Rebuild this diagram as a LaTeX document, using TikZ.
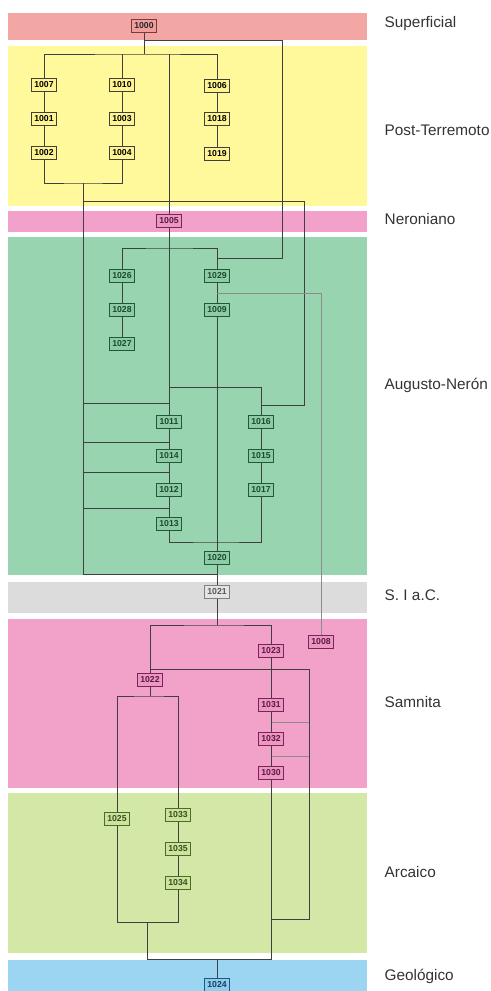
\documentclass[tikz,border=0pt]{standalone}
\usepackage{fontspec}
\setmainfont{Liberation Sans}
\usepackage{tikz}
\usetikzlibrary{calc}

\definecolor{bandSup}{HTML}{F2A7A5}
\definecolor{bandPost}{HTML}{FFF99C}
\definecolor{bandNero}{HTML}{F2A2CA}
\definecolor{bandAug}{HTML}{99D4B1}
\definecolor{bandSI}{HTML}{DCDCDC}
\definecolor{bandSam}{HTML}{F2A2C8}
\definecolor{bandArc}{HTML}{D3E8A6}
\definecolor{bandGeo}{HTML}{9BD5F2}
\definecolor{wire}{HTML}{404040}
\definecolor{labeltext}{HTML}{333333}

\tikzset{
  unit/.style={draw, line width=0.6pt, inner sep=0pt, minimum width=18.75pt,
    minimum height=9.75pt, font=\fontsize{6.5}{7}\selectfont\bfseries},
  uSup/.style={unit, fill={rgb,255:red,238;green,158;blue,156}, draw={rgb,255:red,122;green,58;blue,58}, text=black!85},
  uPost/.style={unit, fill={rgb,255:red,255;green,245;blue,144}, draw=black!75, text=black},
  uNero/.style={unit, fill={rgb,255:red,238;green,150;blue,196}, draw={rgb,255:red,122;green,36;blue,86}, text={rgb,255:red,90;green,26;blue,64}},
  uAug/.style={unit, fill={rgb,255:red,141;green,204;blue,166}, draw={rgb,255:red,31;green,90;blue,54}, text={rgb,255:red,28;green,74;blue,44}},
  uSI/.style={unit, fill={rgb,255:red,228;green,228;blue,228}, draw=black!50, text=black!65},
  uSam/.style={unit, fill={rgb,255:red,238;green,150;blue,196}, draw={rgb,255:red,122;green,36;blue,86}, text={rgb,255:red,90;green,26;blue,64}},
  uArc/.style={unit, fill={rgb,255:red,203;green,227;blue,156}, draw={rgb,255:red,78;green,106;blue,42}, text={rgb,255:red,58;green,78;blue,30}},
  uGeo/.style={unit, fill={rgb,255:red,142;green,205;blue,238}, draw={rgb,255:red,30;green,90;blue,128}, text={rgb,255:red,24;green,58;blue,90}},
  wireline/.style={draw=wire, line width=0.6pt},
  faintline/.style={draw=black!45, line width=0.5pt},
  phase/.style={anchor=west, text=labeltext, font=\fontsize{11.5}{13}\selectfont}
}

\begin{document}
\begin{tikzpicture}[x=0.75pt, y=-0.75pt]
			%%%%% BANDS %%%%%
			\useasboundingbox (0,0) rectangle (491,991);
			\fill[bandSup] (8,13) rectangle (367,40);
			\fill[bandPost] (8,46) rectangle (367,206);
			\fill[bandNero] (8,211) rectangle (367,232);
			\fill[bandAug] (8,237) rectangle (367,575);
			\fill[bandSI] (8,582) rectangle (367,613);
			\fill[bandSam] (8,619) rectangle (367,788);
			\fill[bandArc] (8,793) rectangle (367,953);
			\fill[bandGeo] (8,960) rectangle (367,991);
			
			\node[phase] (lSup) at (380,24) {Superficial};
			\node[phase] (lPost) at (380,130) {Post-Terremoto};
			\node[phase] (lNero) at (380,219) {Neroniano};
			\node[phase] (lAug) at (380,385) {Augusto-Nerón};
			\node[phase] (lSI) at (380,595) {S. I a.C.};
			\node[phase] (lSam) at (380,702) {Samnita};
			\node[phase] (lArc) at (380,872) {Arcaico};
			\node[phase] (lGeo) at (380,976) {Geológico};
			
			%%%%% UNITS %%%%%
			\node[uSup] (n1000) at (144,26) {1000};
			
			\node[uPost] (n1007) at (44,85) {1007};
			\node[uPost] (n1001) at (44,119) {1001};
			\node[uPost] (n1002) at (44,153) {1002};
			\node[uPost] (n1010) at (122,85) {1010};
			\node[uPost] (n1003) at (122,119) {1003};
			\node[uPost] (n1004) at (122,153) {1004};
			\node[uPost] (n1006) at (217,86) {1006};
			\node[uPost] (n1018) at (217,119) {1018};
			\node[uPost] (n1019) at (217,154) {1019};
			
			\node[uNero] (n1005) at (169,221) {1005};
			
			\node[uAug] (n1026) at (122,276) {1026};
			\node[uAug] (n1028) at (122,310) {1028};
			\node[uAug] (n1027) at (122,344) {1027};
			\node[uAug] (n1029) at (217,276) {1029};
			\node[uAug] (n1009) at (217,310) {1009};
			\node[uAug] (n1011) at (169,422) {1011};
			\node[uAug] (n1014) at (169,456) {1014};
			\node[uAug] (n1012) at (169,490) {1012};
			\node[uAug] (n1013) at (169,524) {1013};
			\node[uAug] (n1016) at (261,422) {1016};
			\node[uAug] (n1015) at (261,456) {1015};
			\node[uAug] (n1017) at (261,490) {1017};
			\node[uAug] (n1020) at (217,558) {1020};
			
			\node[uSI] (n1021) at (217,592) {1021};
			
			\node[uSam] (n1008) at (321,642) {1008};
			\node[uSam] (n1023) at (271,651) {1023};
			\node[uSam] (n1022) at (150,680) {1022};
			\node[uSam] (n1031) at (271,705) {1031};
			\node[uSam] (n1032) at (271,739) {1032};
			\node[uSam] (n1030) at (271,773) {1030};
			
			\node[uArc] (n1025) at (117,819) {1025};
			\node[uArc] (n1033) at (178,815) {1033};
			\node[uArc] (n1035) at (178,849) {1035};
			\node[uArc] (n1034) at (178,883) {1034};
			
			\node[uGeo] (n1024) at (217,985) {1024};
			
			%%%%% JUNCTIONS %%%%%
			\coordinate (bTop) at (144,54);
			\coordinate (kSup) at (282,40);
			\coordinate (k1029) at (282,258);
			\coordinate (kPost) at (83,183);
			\coordinate (kPostR) at (83,201);
			\coordinate (kAugR) at (304,405);
			\coordinate (kAugT) at (169,248);
			\coordinate (k1011) at (169,387);
			\coordinate (k1008) at (217,293);
			\coordinate (kAugB) at (217,542);
			\coordinate (k1020) at (217,574);
			\coordinate (kSam) at (217,625);
			\coordinate (k1022) at (150,669);
			\coordinate (kSamR) at (309,919);
			\coordinate (kArcT) at (150,696);
			\coordinate (kArc) at (147,922);
			\coordinate (kArcB) at (147,959);
			
			%%%%% LINKS %%%%%
			\draw[wireline] (n1000) -- (bTop);
			\draw[wireline] (n1007) |- (bTop) -| (n1006);
			\draw[wireline] (n1010) -- (n1010 |- bTop);
			\draw[wireline] (n1000) |- (kSup) -- (k1029) -| (n1029);
			
			\draw[wireline] (n1007) -- (n1001) -- (n1002);
			\draw[wireline] (n1010) -- (n1003) -- (n1004);
			\draw[wireline] (n1006) -- (n1018) -- (n1019);
			\draw[wireline] (n1002) |- (kPost) -| (n1004);
			\draw[wireline] (kPost) |- (k1020);
			\draw[wireline] (kPostR) -| (kAugR) -| (n1016);
			
			\draw[wireline] (n1005 |- bTop) -- (n1005) -- (n1011);
			\draw[wireline] (n1026) |- (kAugT) -| (n1029);
			\draw[wireline] (k1011) -| (n1016);
			\draw[wireline] (n1026) -- (n1028) -- (n1027);
			\draw[wireline] (n1029) -- (n1009) -- (n1020) -- (n1021);
			\draw[faintline] (k1008) -| (n1008);
			
			\foreach \y in {403,442,472,508}
			  \draw[wireline] (kPost |- 0,\y) -- (n1011 |- 0,\y);
			\draw[wireline] (n1011) -- (n1014) -- (n1012) -- (n1013);
			\draw[wireline] (n1016) -- (n1015) -- (n1017);
			\draw[wireline] (n1013) |- (kAugB) -| (n1017);
			
			\draw[wireline] (n1021) -- (kSam);
			\draw[wireline] (n1022) |- (kSam) -| (n1023);
			\draw[wireline] (k1022) -| (kSamR) -- (n1030 |- kSamR);
			\foreach \y in {722,756}
			  \draw[faintline] (n1031 |- 0,\y) -- (kSamR |- 0,\y);
			\draw[wireline] (n1023) -- (n1031) -- (n1032) -- (n1030);
			\draw[wireline] (n1030) |- (kArcB) -- (kArc);
			
			\draw[wireline] (n1022) -- (kArcT);
			\draw[wireline] (n1025) |- (kArcT) -| (n1033);
			\draw[wireline] (n1033) -- (n1035) -- (n1034);
			\draw[wireline] (n1025) |- (kArc) -| (n1034);
			\draw[wireline] (n1024) -- (n1024 |- kArcB);
			%%%%% END %%%%%
		\end{tikzpicture}
\end{document}
